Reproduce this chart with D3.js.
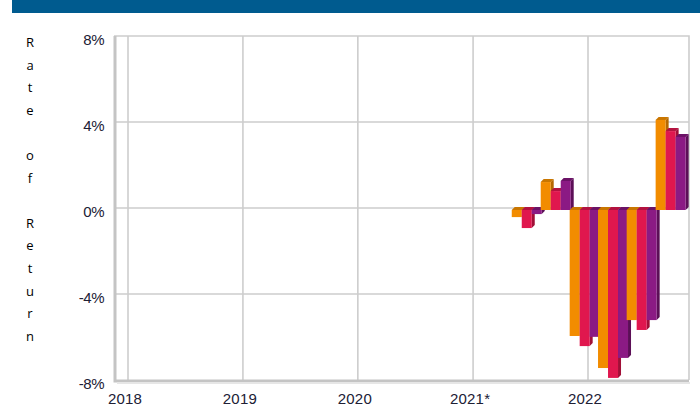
<!DOCTYPE html>
<html>
<head>
<meta charset="utf-8">
<script src="https://cdn.jsdelivr.net/npm/d3@7"></script>
<style>
  html, body { margin: 0; padding: 0; background: #fff; }
  svg { display: block; }
</style>
</head>
<body>
<div id="chart"></div>
<script>
(function (d3) {
    'use strict';

    // quarter-end dates of the plotted returns
    var periods = ['2021-06-30', '2021-09-30', '2021-12-31', '2022-03-31', '2022-06-30', '2022-09-30'];
    var seriesA = [-0.33, 1.3, -5.86, -7.35, -5.12, 4.19];
    var seriesB = [-0.84, 0.88, -6.33, -7.81, -5.58, 3.67];
    var seriesC = [-0.19, 1.35, -5.9, -6.88, -5.12, 3.4];
    var yearTicks = ['2018', '2019', '2020', '2021*', '2022'];
    var yTicks = [8, 4, 0, -4, -8];
    var axisTitle = 'Rate of Return';

    var colors = [
        { front: '#f28c00', side: '#b56800', top: '#c97600' },
        { front: '#e0174e', side: '#a10f37', top: '#b3123f' },
        { front: '#8b1a84', side: '#5c0f57', top: '#6b1266' }
    ];

    var width = 700, height = 409;
    var frame = { left: 114, right: 689, top: 36, bottom: 380 };
    var depth = 3, barW = 10;

    var parse = d3.timeParse('%Y-%m-%d');
    var x = d3.scaleTime()
        .domain([parse('2018-01-01'), parse('2022-01-01')])
        .range([128, 588]);
    var y = d3.scaleLinear().domain([-8, 8]).range([frame.bottom, frame.top]);

    var svg = d3.select('#chart').append('svg')
        .attr('width', width)
        .attr('height', height);

    // header band
    svg.append('rect')
        .attr('x', 12).attr('y', 0)
        .attr('width', width - 12).attr('height', 13)
        .attr('fill', '#005b8f');

    var grid = svg.append('g')
        .attr('stroke', '#cdcdcd')
        .attr('stroke-width', 1.6)
        .attr('fill', 'none');

    grid.selectAll('line.h')
        .data(yTicks.slice(1, -1))
        .enter().append('line')
        .attr('x1', frame.left).attr('x2', frame.right)
        .attr('y1', function (d) { return y(d); })
        .attr('y2', function (d) { return y(d); });

    grid.selectAll('line.v')
        .data(yearTicks)
        .enter().append('line')
        .attr('x1', function (d) { return x(parse(d.slice(0, 4) + '-01-01')); })
        .attr('x2', function (d) { return x(parse(d.slice(0, 4) + '-01-01')); })
        .attr('y1', frame.top).attr('y2', frame.bottom);

    // frame: top and right thin, left and bottom heavier
    grid.append('path')
        .attr('d', 'M' + frame.left + ',' + frame.top + 'H' + frame.right + 'V' + frame.bottom);
    svg.append('path')
        .attr('d', 'M' + (frame.left + 1) + ',' + frame.top + 'V' + (frame.bottom + 1) + 'H' + frame.right)
        .attr('fill', 'none')
        .attr('stroke', '#c4c4c4')
        .attr('stroke-width', 3);
    svg.append('path')
        .attr('d', 'M' + (frame.left + 3) + ',' + (frame.bottom + 3) + 'H' + (frame.right + 1))
        .attr('fill', 'none')
        .attr('stroke', '#e6e6e6')
        .attr('stroke-width', 2);

    // bars
    var rows = periods.map(function (p, i) {
        return { date: parse(p), values: [seriesA[i], seriesB[i], seriesC[i]] };
    });

    var bars = [];
    rows.forEach(function (r) {
        var cx = x(r.date) - 3;
        r.values.forEach(function (v, k) {
            bars.push({ x0: cx - 1.5 * barW + k * barW, v: v, c: colors[k] });
        });
    });

    var barG = svg.append('g').selectAll('g')
        .data(bars)
        .enter().append('g');

    function yt(d) { return Math.min(y(d.v), y(0)) + 2; }
    function yb(d) { return Math.max(y(d.v), y(0)) + 2; }

    barG.append('path')
        .attr('fill', function (d) { return d.c.side; })
        .attr('d', function (d) {
            var x1 = d.x0 + barW;
            return 'M' + x1 + ',' + yt(d) + 'L' + (x1 + depth) + ',' + (yt(d) - depth) +
                'L' + (x1 + depth) + ',' + (yb(d) - depth) + 'L' + x1 + ',' + yb(d) + 'Z';
        });
    barG.append('path')
        .attr('fill', function (d) { return d.c.top; })
        .attr('d', function (d) {
            var x1 = d.x0 + barW;
            return 'M' + d.x0 + ',' + yt(d) + 'L' + (d.x0 + depth) + ',' + (yt(d) - depth) +
                'L' + (x1 + depth) + ',' + (yt(d) - depth) + 'L' + x1 + ',' + yt(d) + 'Z';
        });
    barG.append('rect')
        .attr('fill', function (d) { return d.c.front; })
        .attr('x', function (d) { return d.x0; })
        .attr('y', yt)
        .attr('width', barW)
        .attr('height', function (d) { return yb(d) - yt(d); });

    // y tick labels
    svg.append('g').selectAll('text')
        .data(yTicks)
        .enter().append('text')
        .attr('x', 104)
        .attr('y', function (d) { return y(d) + 9; })
        .attr('text-anchor', 'end')
        .attr('font-family', '"Liberation Sans", Arial, sans-serif')
        .attr('font-size', 15)
        .attr('fill', '#202035')
        .attr('letter-spacing', -0.5)
        .text(function (d) { return d + '%'; });

    // x tick labels
    svg.append('g').selectAll('text')
        .data(yearTicks)
        .enter().append('text')
        .attr('x', function (d) { return x(parse(d.slice(0, 4) + '-01-01')) - 3; })
        .attr('y', 404)
        .attr('text-anchor', 'middle')
        .attr('font-family', '"Liberation Sans", Arial, sans-serif')
        .attr('font-size', 15)
        .attr('fill', '#202035')
        .attr('letter-spacing', 0.2)
        .text(function (d) { return d; });

    // stacked vertical axis title
    svg.append('text')
        .attr('font-family', '"Open Sans", sans-serif')
        .attr('font-size', 13)
        .attr('fill', '#000')
        .attr('text-anchor', 'middle')
        .selectAll('tspan')
        .data(axisTitle.split(''))
        .enter().append('tspan')
        .attr('x', 30)
        .attr('y', function (d, i) { return 47 + i * 22.6; })
        .text(function (d) { return d; });

})(d3);
</script>
</body>
</html>
